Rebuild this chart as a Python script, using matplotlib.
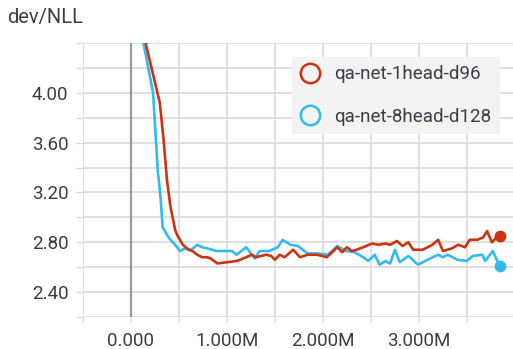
import matplotlib
matplotlib.use("Agg")
import matplotlib.pyplot as plt
from matplotlib.lines import Line2D
import numpy as np

title = "dev/NLL"
series_names = ["qa-net-1head-d96", "qa-net-8head-d128"]
colors = ["#cc3311", "#33bbee"]

# steps in millions
red_x = [0.146, 0.22, 0.30, 0.34, 0.375, 0.41, 0.46, 0.48, 0.54, 0.60, 0.64, 0.69, 0.74,
         0.79, 0.83, 0.90, 1.00, 1.10, 1.14, 1.20, 1.26, 1.30, 1.41, 1.46, 1.50, 1.55,
         1.60, 1.69, 1.76, 1.84, 1.94, 2.04, 2.15, 2.20, 2.25, 2.30, 2.35, 2.42, 2.51,
         2.58, 2.65, 2.70, 2.77, 2.83, 2.89, 2.94, 3.04, 3.14, 3.20, 3.25, 3.34, 3.41,
         3.48, 3.53, 3.61, 3.67, 3.71, 3.76, 3.81, 3.84]
red_y = [4.42, 4.18, 3.92, 3.62, 3.30, 3.09, 2.90, 2.86, 2.78, 2.74, 2.73, 2.70, 2.68,
         2.68, 2.67, 2.63, 2.64, 2.65, 2.66, 2.68, 2.70, 2.68, 2.70, 2.69, 2.66, 2.70,
         2.68, 2.74, 2.68, 2.70, 2.70, 2.68, 2.76, 2.72, 2.76, 2.73, 2.74, 2.76, 2.79,
         2.78, 2.79, 2.78, 2.81, 2.77, 2.80, 2.74, 2.74, 2.78, 2.82, 2.73, 2.75, 2.78,
         2.76, 2.82, 2.82, 2.84, 2.89, 2.80, 2.84, 2.85]

blue_x = [0.125, 0.18, 0.23, 0.26, 0.28, 0.29, 0.31, 0.33, 0.40, 0.46, 0.51, 0.56, 0.63,
          0.69, 0.74, 0.80, 0.89, 0.97, 1.05, 1.10, 1.20, 1.29, 1.34, 1.44, 1.53, 1.58,
          1.66, 1.74, 1.84, 1.95, 2.05, 2.15, 2.24, 2.33, 2.42, 2.47, 2.54, 2.59, 2.65,
          2.70, 2.75, 2.80, 2.89, 2.99, 3.09, 3.20, 3.25, 3.30, 3.40, 3.50, 3.56, 3.66,
          3.69, 3.77, 3.81, 3.84]
blue_y = [4.42, 4.20, 4.00, 3.62, 3.36, 3.30, 3.14, 2.92, 2.83, 2.78, 2.73, 2.75, 2.74,
          2.78, 2.76, 2.75, 2.73, 2.73, 2.73, 2.70, 2.76, 2.67, 2.73, 2.73, 2.76, 2.82,
          2.78, 2.77, 2.71, 2.71, 2.70, 2.77, 2.73, 2.72, 2.68, 2.65, 2.70, 2.62, 2.65,
          2.63, 2.74, 2.64, 2.69, 2.62, 2.66, 2.70, 2.68, 2.70, 2.66, 2.65, 2.69, 2.70,
          2.65, 2.73, 2.66, 2.61]

x_ticks = [0, 1, 2, 3]
x_tick_labels = ["0.000", "1.000M", "2.000M", "3.000M"]
y_ticks = [2.4, 2.8, 3.2, 3.6, 4.0]
y_tick_labels = ["2.40", "2.80", "3.20", "3.60", "4.00"]

plt.rcParams['font.family'] = ['Roboto', 'DejaVu Sans']
txt_color = "#3c3c48"
grid_color = "#dcdcdc"
fs = 13.5

W, H = 513, 349
fig = plt.figure(figsize=(W / 100, H / 100), dpi=100)
ax = fig.add_axes([83 / W, 1 - 317 / H, (W - 83) / W, (317 - 43) / H])
ax.set_xlim(-0.5, 3.98)
ax.set_ylim(2.2, 4.4)

for s in ax.spines.values():
    s.set_visible(False)

minor_x = np.arange(-0.5, 4.0, 0.5)
minor_y = np.arange(2.2, 4.41, 0.2)
for xv in minor_x:
    if abs(xv) < 1e-9:
        continue
    ax.axvline(xv, color=grid_color, lw=1.3, zorder=0)
for yv in minor_y:
    ax.axhline(yv, color=grid_color, lw=1.3, zorder=0)
ax.axvline(0, color="#9a9a9a", lw=1.6, zorder=0.5)

ax.set_xticks(minor_x, minor=True)
ax.set_xticks(x_ticks)
ax.set_xticklabels(x_tick_labels)
ax.set_yticks(minor_y, minor=True)
ax.set_yticks(y_ticks)
ax.set_yticklabels(y_tick_labels)
ax.tick_params(axis='x', which='both', length=4.5, width=1.0, color=grid_color,
               pad=6.5, labelsize=fs, labelcolor=txt_color)
ax.tick_params(axis='y', which='both', length=5, width=1.0, color=grid_color,
               pad=5.5, labelsize=fs, labelcolor=txt_color)

ax.plot(red_x, red_y, color=colors[0], lw=1.9, zorder=3, solid_joinstyle='round')
ax.plot(blue_x, blue_y, color=colors[1], lw=1.9, zorder=2, solid_joinstyle='round')
ax.plot([red_x[-1]], [red_y[-1]], 'o', color=colors[0], ms=7.5, zorder=4, clip_on=False)
ax.plot([blue_x[-1]], [blue_y[-1]], 'o', color=colors[1], ms=7.5, zorder=4, clip_on=False)

fig.text(7 / W, 1 - 17 / H, title, fontsize=14.5, color=txt_color, va='center', ha='left')

handles = [Line2D([], [], ls='none', marker='o', ms=14, mfc='none', mec=c, mew=1.8)
           for c in colors]
leg = ax.legend(handles, series_names, loc='upper left',
                bbox_to_anchor=(292 / W, 1 - 57 / H), bbox_transform=fig.transFigure,
                fontsize=fs, frameon=True, fancybox=False, facecolor="#f3f3f3",
                edgecolor="none", framealpha=1.0, borderpad=0.45, labelspacing=1.3,
                handletextpad=0.8, handlelength=1.0, borderaxespad=0)
for t in leg.get_texts():
    t.set_color(txt_color)

fig.savefig("out.png", dpi=100)
